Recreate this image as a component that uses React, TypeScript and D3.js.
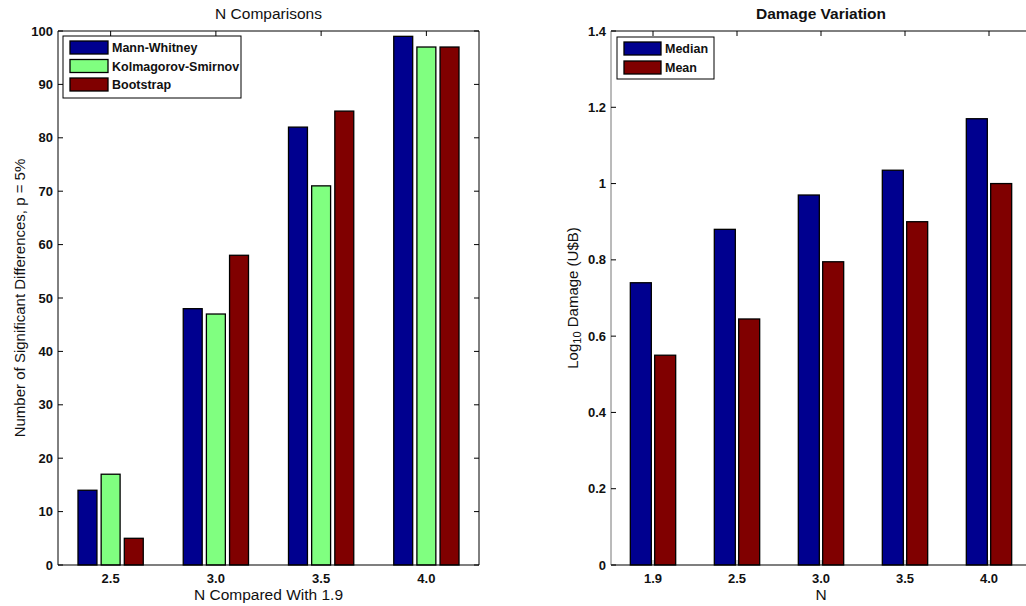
import React from "react";
import * as d3 from "d3";

// Left panel: share of significant differences per test
const nCats = ["2.5", "3.0", "3.5", "4.0"];
const mannWhitney = [14, 48, 82, 99];
const kolmogorov = [17, 47, 71, 97];
const bootstrap = [5, 58, 85, 97];
const leftYTicks = [0, 10, 20, 30, 40, 50, 60, 70, 80, 90, 100];

// Right panel: log10 damage by N
const dmgCats = ["1.9", "2.5", "3.0", "3.5", "4.0"];
const medianDmg = [0.74, 0.88, 0.97, 1.035, 1.17];
const meanDmg = [0.55, 0.645, 0.795, 0.9, 1.0];
const rightYTicks = [0, 0.2, 0.4, 0.6, 0.8, 1, 1.2, 1.4];

const BLUE = "#00008f";
const GREEN = "#80ff80";
const RED = "#800000";

const tickFont = "'Liberation Sans Narrow', 'Liberation Sans', Arial, sans-serif";
const labelFont = "'Liberation Sans', Arial, sans-serif";

const W = 1026;
const H = 606;
const TOP = 31;
const BOTTOM = 565;
const TICK = 5;

type Series = { name: string; color: string; values: number[]; offset: number };

function Panel(props: {
  left: number;
  right: number;
  cats: string[];
  yDomain: [number, number];
  yTicks: number[];
  yFmt: (v: number) => string;
  series: Series[];
  barWidth: number;
  title: string;
  titleBold: boolean;
  xLabel: string;
  yLabel: React.ReactNode;
  yLabelX: number;
  leftSpine: string;
  legend: { x: number; y: number; w: number; h: number; rowGap: number; swW: number };
}) {
  const { left, right, cats, series } = props;
  const x = d3.scaleLinear().domain([0.5, cats.length + 0.5]).range([left, right]);
  const y = d3.scaleLinear().domain(props.yDomain).range([BOTTOM, TOP]);
  const unit = x(1) - x(0);
  const cx = (left + right) / 2;
  const lg = props.legend;
  return (
    <g>
      {/* bottom ticks drawn under bars */}
      {cats.map((c, i) => (
        <line key={"bt" + c} x1={x(i + 1)} x2={x(i + 1)} y1={BOTTOM} y2={BOTTOM - TICK} stroke="#999" />
      ))}
      {series.map((s) =>
        s.values.map((v, i) => {
          const bx = x(i + 1 + s.offset) - (props.barWidth * unit) / 2;
          return (
            <rect
              key={s.name + i}
              x={bx}
              y={y(v)}
              width={props.barWidth * unit}
              height={y(0) - y(v)}
              fill={s.color}
              stroke="#000"
              strokeWidth={1.3}
            />
          );
        })
      )}
      {/* spines */}
      <line x1={left} x2={right} y1={TOP} y2={TOP} stroke="#000" />
      <line x1={left} x2={right} y1={BOTTOM} y2={BOTTOM} stroke="#000" strokeWidth={1.2} />
      <line x1={left} x2={left} y1={TOP} y2={BOTTOM} stroke={props.leftSpine} />
      <line x1={right} x2={right} y1={TOP} y2={BOTTOM} stroke="#000" />
      {/* top ticks */}
      {cats.map((c, i) => (
        <line key={"tt" + c} x1={x(i + 1)} x2={x(i + 1)} y1={TOP} y2={TOP + TICK} stroke="#000" />
      ))}
      {/* y ticks */}
      {props.yTicks.map((t) => (
        <g key={"yt" + t}>
          <line x1={left} x2={left + TICK} y1={y(t)} y2={y(t)} stroke="#000" />
          <line x1={right} x2={right - TICK} y1={y(t)} y2={y(t)} stroke="#000" />
          <text
            x={left - 5}
            y={y(t)}
            textAnchor="end"
            dominantBaseline="central"
            fontFamily={tickFont}
            fontWeight="bold"
            fontSize={13}
            fill="#111"
          >
            {props.yFmt(t)}
          </text>
        </g>
      ))}
      {/* x tick labels */}
      {cats.map((c, i) => (
        <text
          key={"xl" + c}
          x={x(i + 1)}
          y={578}
          textAnchor="middle"
          dominantBaseline="central"
          fontFamily={tickFont}
          fontWeight="bold"
          fontSize={13}
          fill="#111"
        >
          {c}
        </text>
      ))}
      <text
        x={cx}
        y={13}
        textAnchor="middle"
        dominantBaseline="central"
        fontFamily={labelFont}
        fontWeight={props.titleBold ? "bold" : "normal"}
        fontSize={15.5}
        fill="#111"
      >
        {props.title}
      </text>
      <text
        x={cx}
        y={594}
        textAnchor="middle"
        dominantBaseline="central"
        fontFamily={labelFont}
        fontSize={15.5}
        fill="#111"
      >
        {props.xLabel}
      </text>
      <text
        transform={`translate(${props.yLabelX},${(TOP + BOTTOM) / 2}) rotate(-90)`}
        textAnchor="middle"
        dominantBaseline="central"
        fontFamily={labelFont}
        fontSize={15}
        fill="#111"
      >
        {props.yLabel}
      </text>
      {/* legend */}
      <rect x={lg.x} y={lg.y} width={lg.w} height={lg.h} fill="#fff" stroke="#000" />
      {series.map((s, i) => (
        <g key={"lg" + s.name}>
          <rect
            x={lg.x + 7}
            y={lg.y + 5 + i * lg.rowGap}
            width={lg.swW}
            height={13}
            fill={s.color}
            stroke="#000"
            strokeWidth={1.3}
          />
          <text
            x={lg.x + 7 + lg.swW + 4}
            y={lg.y + 5 + i * lg.rowGap + 7}
            dominantBaseline="central"
            fontFamily={tickFont}
            fontWeight="bold"
            fontSize={12.5}
            fill="#111"
          >
            {s.name}
          </text>
        </g>
      ))}
    </g>
  );
}

export default function App() {
  const leftSeries: Series[] = [
    { name: "Mann-Whitney", color: BLUE, values: mannWhitney, offset: -0.22 },
    { name: "Kolmagorov-Smirnov", color: GREEN, values: kolmogorov, offset: 0 },
    { name: "Bootstrap", color: RED, values: bootstrap, offset: 0.22 },
  ];
  const rightSeries: Series[] = [
    { name: "Median", color: BLUE, values: medianDmg, offset: -0.145 },
    { name: "Mean", color: RED, values: meanDmg, offset: 0.145 },
  ];
  return (
    <svg
      width={W}
      height={H}
      style={{ position: "absolute", left: 0, top: 0, background: "#fff" }}
    >
      <rect x={0} y={0} width={W} height={H} fill="#fff" />
      <Panel
        left={58}
        right={479}
        cats={nCats}
        yDomain={[0, 100]}
        yTicks={leftYTicks}
        yFmt={(v) => String(v)}
        series={leftSeries}
        barWidth={0.18}
        title="N Comparisons"
        titleBold={false}
        xLabel="N Compared With 1.9"
        yLabel="Number of Significant Differences, p = 5%"
        yLabelX={19}
        leftSpine="#000"
        legend={{ x: 63, y: 36, w: 178, h: 62, rowGap: 18.5, swW: 38 }}
      />
      <Panel
        left={611}
        right={1031}
        cats={dmgCats}
        yDomain={[0, 1.4]}
        yTicks={rightYTicks}
        yFmt={(v) => (v === 0 ? "0" : d3.format("")(+v.toFixed(1)))}
        series={rightSeries}
        barWidth={0.25}
        title="Damage Variation"
        titleBold={true}
        xLabel="N"
        yLabel={
          <>
            Log
            <tspan fontSize={11} dy={5}>10</tspan>
            <tspan dy={-5}> Damage (U$B)</tspan>
          </>
        }
        yLabelX={572}
        leftSpine="#777"
        legend={{ x: 617, y: 37, w: 97, h: 42, rowGap: 19, swW: 37 }}
      />
    </svg>
  );
}
